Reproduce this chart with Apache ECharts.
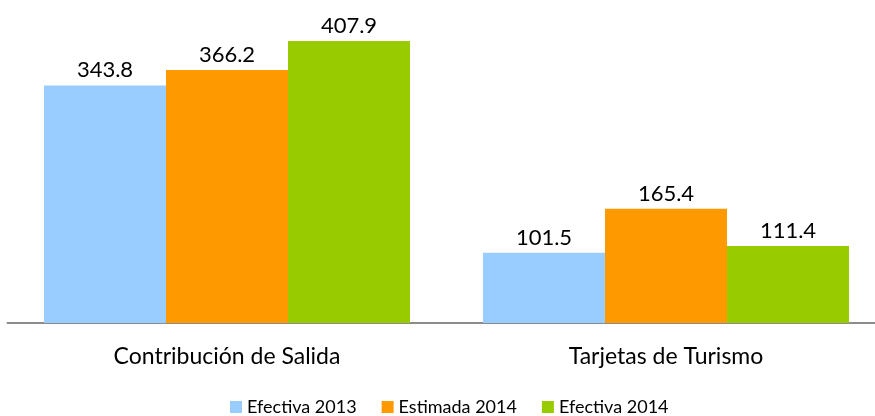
<!DOCTYPE html>
<html>
<head>
<meta charset="utf-8">
<script src="https://cdn.jsdelivr.net/npm/echarts@6/dist/echarts.min.js"></script>
<style>
  html, body { margin: 0; padding: 0; background: #fff; overflow: hidden; }
  #wrap { width: 875px; height: 416px; overflow: hidden; }
  #chart { width: 886px; height: 416px; }
</style>
</head>
<body>
<div id="wrap"><div id="chart"></div></div>
<script>
// Ingresos por concepto (millones)
const categories = ['Contribución de Salida', 'Tarjetas de Turismo'];
const seriesNames = ['Efectiva 2013', 'Estimada 2014', 'Efectiva 2014'];
const efectiva2013 = [343.8, 101.5];
const estimada2014 = [366.2, 165.4];
const efectiva2014 = [407.9, 111.4];
const colors = ['#99CCFF', '#FF9900', '#99CC00'];

const font = 'Lato, "Open Sans", sans-serif';
const values = [efectiva2013, estimada2014, efectiva2014];

const chart = echarts.init(document.getElementById('chart'), null, { renderer: 'canvas' });
chart.setOption({
  animation: false,
  textStyle: { fontFamily: font },
  grid: { left: 7.5, top: 12, width: 878, height: 311, containLabel: false },
  legend: {
    top: 393,
    left: 225,
    itemWidth: 12,
    itemHeight: 12,
    itemGap: 25,
    icon: 'rect',
    textStyle: { fontSize: 18, color: '#000', fontFamily: font },
    data: seriesNames
  },
  xAxis: {
    type: 'category',
    data: categories,
    axisLine: { lineStyle: { color: '#8c8c8c', width: 2 } },
    axisTick: { show: false },
    axisLabel: { color: '#000', fontSize: 23, margin: 22, fontFamily: font }
  },
  yAxis: {
    type: 'value',
    min: 0,
    max: 450,
    show: false,
    splitLine: { show: false }
  },
  series: seriesNames.map((name, i) => ({
    name: name,
    type: 'bar',
    data: values[i],
    barWidth: 122,
    barGap: '0%',
    itemStyle: { color: colors[i] },
    label: {
      show: true,
      position: 'top',
      distance: 4,
      color: '#000',
      fontSize: 22,
      fontFamily: font,
      formatter: p => p.value.toFixed(1)
    }
  }))
});
</script>
</body>
</html>
